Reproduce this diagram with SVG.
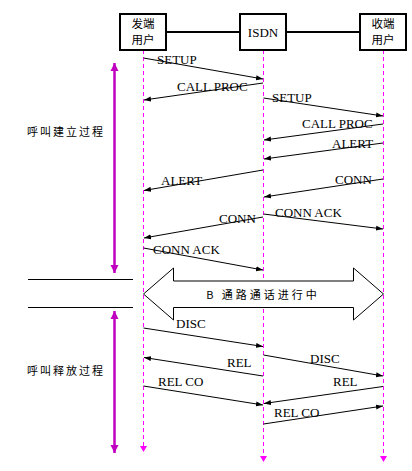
<svg xmlns="http://www.w3.org/2000/svg" width="412" height="471" viewBox="0 0 412 471">
<style>
.box{fill:#fff;stroke:#000;stroke-width:2}
.bt{font-family:"Liberation Serif","Noto Sans CJK SC",serif;font-size:13px;fill:#000;text-anchor:middle}
.cj{font-family:"Noto Sans CJK SC",sans-serif;font-size:11.5px;fill:#000;text-anchor:middle}
.life{stroke:#ff00ff;stroke-width:1;stroke-dasharray:4,3;fill:none}
.msg{stroke:#000;stroke-width:1;fill:none;marker-end:url(#ah)}
.ml{font-family:"Liberation Serif",serif;font-size:13px;fill:#000}
.ph{stroke:#c000c0;stroke-width:2.5;fill:none;marker-start:url(#pa);marker-end:url(#pa)}
.pl{font-family:"Noto Sans CJK SC",sans-serif;font-size:11px;fill:#000;letter-spacing:2px}
</style>
<defs>
<marker id="ah" markerUnits="userSpaceOnUse" markerWidth="8" markerHeight="6" refX="7" refY="3" orient="auto">
<path d="M0,0.5 L7,3 L0,5.5 Z" fill="#000"/>
</marker>
<marker id="pa" markerUnits="userSpaceOnUse" markerWidth="10" markerHeight="10" refX="8" refY="5" orient="auto-start-reverse">
<path d="M0,1 L8,5 L0,9 Z" fill="#c000c0"/>
</marker>
<marker id="la" markerUnits="userSpaceOnUse" markerWidth="8" markerHeight="8" refX="5" refY="4" orient="auto">
<path d="M0,0.5 L6,4 L0,7.5 Z" fill="#ff00ff"/>
</marker>
</defs>

<g id="lifelines">
<line class="life" x1="143.5" y1="50" x2="143.5" y2="451" marker-end="url(#la)"/>
<line class="life" x1="263.5" y1="50" x2="263.5" y2="461" marker-end="url(#la)"/>
<line class="life" x1="383.5" y1="50" x2="383.5" y2="461" marker-end="url(#la)"/>
</g>

<g id="links">
<line x1="166" y1="32" x2="240" y2="32" stroke="#000" stroke-width="2"/>
<line x1="286" y1="32" x2="360" y2="32" stroke="#000" stroke-width="2"/>
</g>

<g id="node-caller">
<rect class="box" x="120" y="14" width="46" height="36"/>
<text class="cj" x="143" y="27.5">发端</text>
<text class="cj" x="143" y="43.5">用户</text>
</g>
<g id="node-isdn">
<rect class="box" x="240" y="14" width="46" height="36"/>
<text class="bt" x="263" y="37">ISDN</text>
</g>
<g id="node-callee">
<rect class="box" x="360" y="14" width="46" height="36"/>
<text class="cj" x="383" y="27.5">收端</text>
<text class="cj" x="383" y="43.5">用户</text>
</g>

<g id="dividers" stroke="#000" stroke-width="1">
<line x1="28" y1="279.5" x2="133" y2="279.5"/>
<line x1="28" y1="307.5" x2="133" y2="307.5"/>
</g>

<g id="phases">
<line class="ph" x1="114.5" y1="63" x2="114.5" y2="273"/>
<text class="pl" x="27" y="136">呼叫建立过程</text>
<line class="ph" x1="114.5" y1="311" x2="114.5" y2="453"/>
<text class="pl" x="27" y="375">呼叫释放过程</text>
</g>

<g id="bchannel">
<path d="M143.5,294 L173.5,268 L173.5,281 L353.5,281 L353.5,268 L383.5,294 L353.5,320 L353.5,307.5 L173.5,307.5 L173.5,320 Z" fill="#fff" stroke="#000" stroke-width="1"/>
<text x="263" y="299" font-family="Noto Sans CJK SC,sans-serif" font-size="11" letter-spacing="3" text-anchor="middle" fill="#000">B 通路通话进行中</text>
</g>

<g id="connectors">
<line class="msg" x1="143.5" y1="58" x2="263" y2="79"/>
<line class="msg" x1="263" y1="83" x2="144" y2="100"/>
<line class="msg" x1="263.5" y1="98" x2="383" y2="116"/>
<line class="msg" x1="383" y1="124" x2="264" y2="140"/>
<line class="msg" x1="383" y1="143" x2="264" y2="159"/>
<line class="msg" x1="263" y1="170" x2="144" y2="190.5"/>
<line class="msg" x1="383" y1="179" x2="264" y2="197"/>
<line class="msg" x1="263.5" y1="214" x2="383" y2="229"/>
<line class="msg" x1="263" y1="217" x2="144" y2="238"/>
<line class="msg" x1="143.5" y1="248" x2="263" y2="270"/>
<line class="msg" x1="143.5" y1="328" x2="263" y2="346.5"/>
<line class="msg" x1="263" y1="376" x2="144" y2="357.5"/>
<line class="msg" x1="263.5" y1="355" x2="383" y2="376"/>
<line class="msg" x1="143.5" y1="386" x2="263" y2="405"/>
<line class="msg" x1="383" y1="386.5" x2="264" y2="403.5"/>
<line class="msg" x1="263.5" y1="424" x2="383" y2="406"/>
</g>

<g id="labels">
<text class="ml" x="157" y="64">SETUP</text>
<text class="ml" x="177" y="91">CALL PROC</text>
<text class="ml" x="272" y="102">SETUP</text>
<text class="ml" x="302" y="128">CALL PROC</text>
<text class="ml" x="332" y="148">ALERT</text>
<text class="ml" x="161" y="185">ALERT</text>
<text class="ml" x="335" y="184">CONN</text>
<text class="ml" x="275" y="217">CONN ACK</text>
<text class="ml" x="219" y="223">CONN</text>
<text class="ml" x="153" y="254">CONN ACK</text>
<text class="ml" x="176" y="328">DISC</text>
<text class="ml" x="227" y="367">REL</text>
<text class="ml" x="310" y="363">DISC</text>
<text class="ml" x="158" y="386">REL CO</text>
<text class="ml" x="333" y="386">REL</text>
<text class="ml" x="274" y="417">REL CO</text>
</g>
</svg>
